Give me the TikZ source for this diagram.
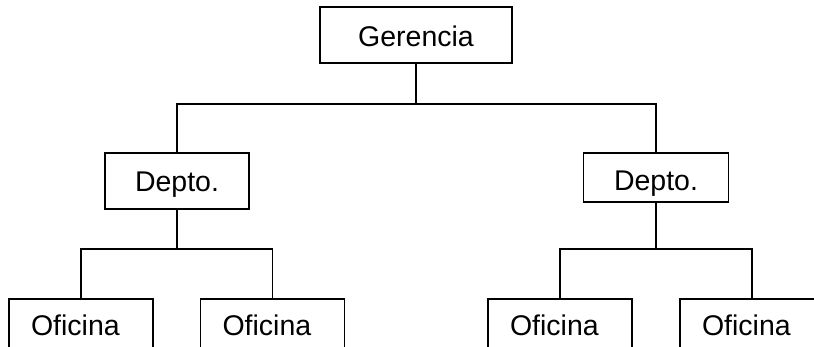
\documentclass[tikz,border=0pt]{standalone}
\usepackage{fontspec}
\setmainfont{Liberation Sans}
\begin{document}
\begin{tikzpicture}[x=1pt,y=-1pt,
  unit/.style={draw=black, line width=1.9pt, rectangle, inner sep=0pt,
    font=\fontsize{28.5}{34}\selectfont},
  office/.style={unit, text width=100pt, inner xsep=22pt, align=left,
    text height=36pt, text depth=20pt},
  link/.style={draw=black, line width=1.9pt}]
  \useasboundingbox (0,0) rectangle (814,347);
  \clip (0,0) rectangle (814,347);
  \fill[white] (0,0) rectangle (814,347);

  % top management
  \node[unit, minimum width=192pt, text height=40pt, text depth=16pt]
    (ger) at (416,35) {Gerencia};

  % departments
  \node[unit, minimum width=144pt, text height=39pt, text depth=17pt]
    (dl) at (177,181) {Depto.};
  \node[unit, minimum width=145pt, text height=38pt, text depth=11pt]
    (dr) at (656,177.5) {Depto.};

  % offices
  \node[office] (o1) at (81,327) {Oficina};
  \node[office] (o2) at (272.5,327) {Oficina};
  \node[office] (o3) at (560,327) {Oficina};
  \node[office] (o4) at (752,327) {Oficina};

  % bus junctions
  \coordinate (busG) at (416,104);
  \coordinate (busL) at (177,249);
  \coordinate (busR) at (656,249);

  % connectors
  \draw[link] (ger.south) -- (busG);
  \draw[link] (dl.north) |- (busG) -| (dr.north);
  \draw[link] (dl.south) -- (busL);
  \draw[link] (o1.north) |- (busL) -| (o2.north);
  \draw[link] (dr.south) -- (busR);
  \draw[link] (o3.north) |- (busR) -| (o4.north);
\end{tikzpicture}
\end{document}
